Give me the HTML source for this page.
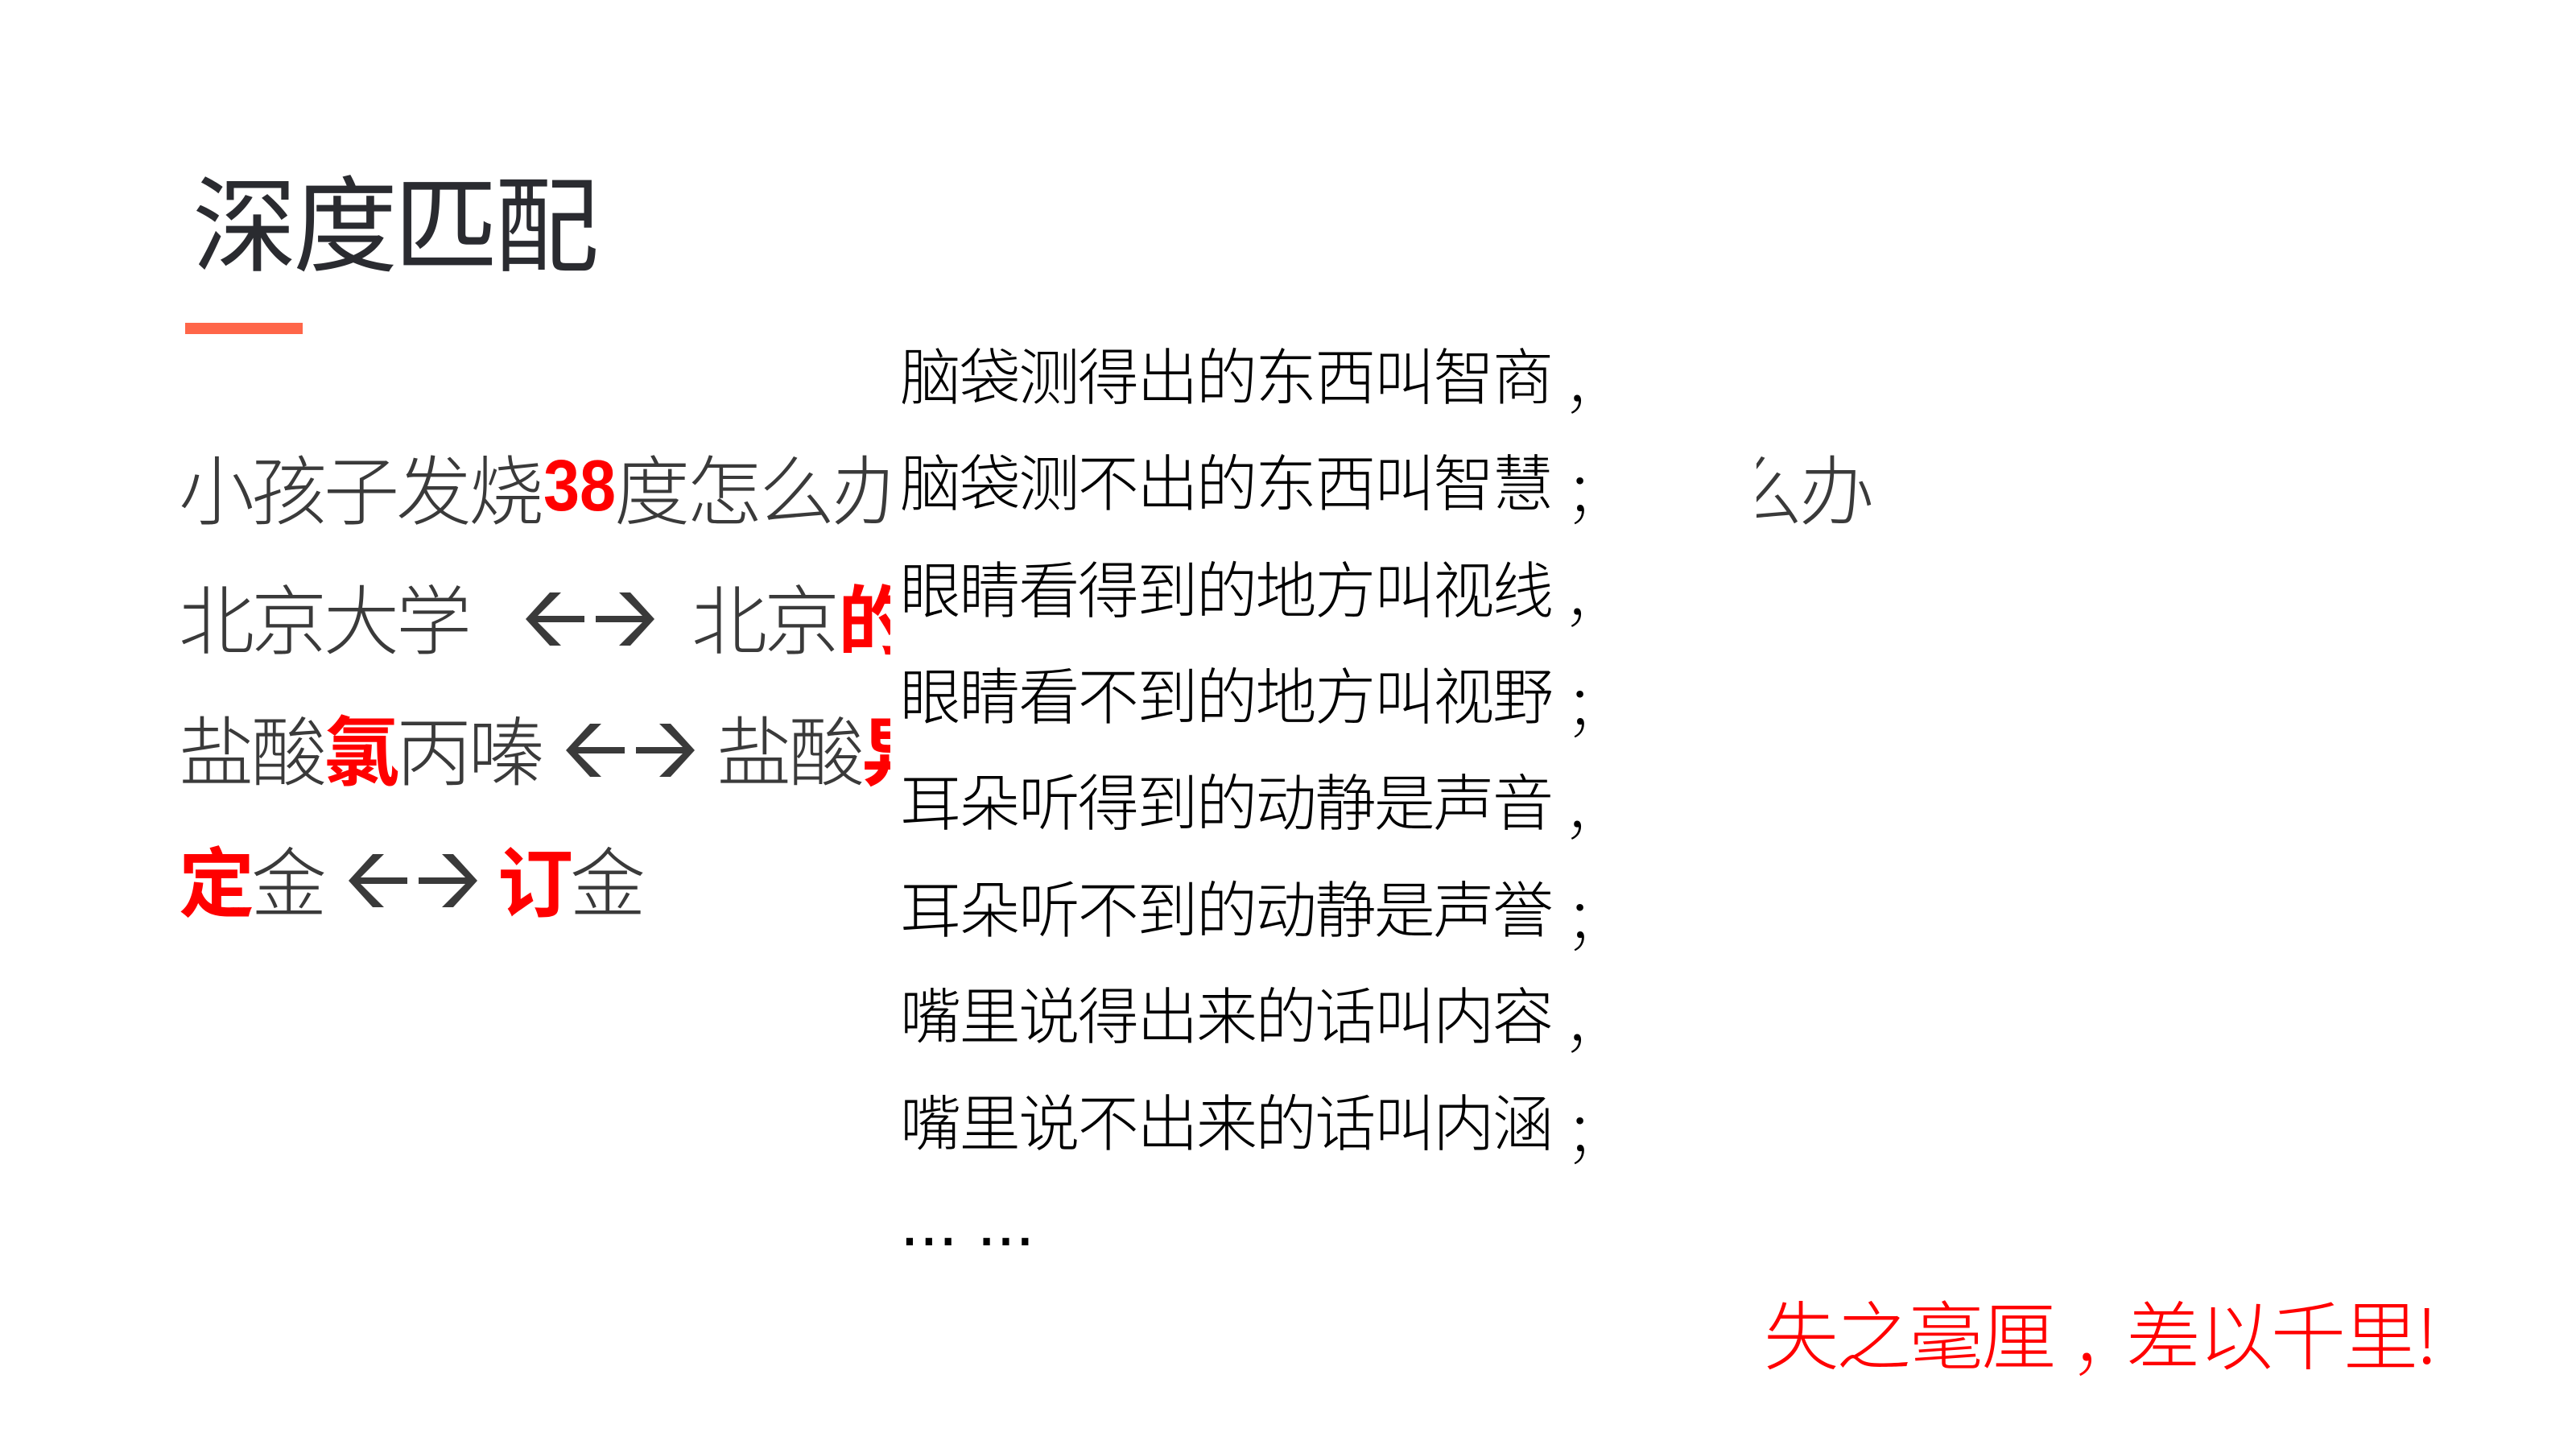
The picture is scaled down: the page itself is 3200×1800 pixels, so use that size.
<!DOCTYPE html>
<html lang="zh">
<head>
<meta charset="utf-8">
<title>深度匹配</title>
<style>
html,body{margin:0;padding:0;background:#fff}
body{position:relative;width:3200px;height:1800px;overflow:hidden;font-family:"Liberation Sans","Noto Sans CJK SC",sans-serif}
.t{position:absolute;white-space:pre;line-height:1;font-family:"Noto Sans CJK SC","Liberation Sans",sans-serif;font-weight:300}
.l{font-size:94px;color:#3a3a3a;letter-spacing:-4px}
.b{font-weight:700;color:#f00}
.r{font-size:76px;color:#000;left:1118px;letter-spacing:-2.4px}
.p{position:relative;left:16px;top:12px;font-weight:100}
svg{position:absolute}
</style>
</head>
<body>
<div class="t" style="left:239px;top:206px;font-size:130px;letter-spacing:-5px;color:#2a2b30;font-weight:400">深度匹配</div>
<div style="position:absolute;left:230px;top:401px;width:146px;height:14px;background:#ff6649"></div>

<div class="t l" style="left:222px;top:557px">小孩子发烧</div>
<div class="t l b" style="left:675px;top:559px;font-size:90px;letter-spacing:0;font-family:'Liberation Sans',sans-serif;transform-origin:0 0;transform:scaleX(.9)">38</div>
<div class="t l" style="left:763px;top:557px">度怎么办</div>
<div class="t l" style="left:2145px;top:557px">么办</div>

<div class="t l" style="left:222px;top:718px">北京大学</div>
<div class="t l" style="left:859px;top:718px">北京</div>
<div class="t l b" style="left:1041px;top:718px">的</div>

<div class="t l" style="left:222px;top:881px">盐酸</div>
<div class="t l b" style="left:402px;top:881px">氯</div>
<div class="t l" style="left:492px;top:881px">丙嗪</div>
<div class="t l" style="left:890px;top:881px">盐酸</div>
<div class="t l b" style="left:1070px;top:881px">异</div>

<div class="t l b" style="left:222px;top:1044px">定</div>
<div class="t l" style="left:312px;top:1044px">金</div>
<div class="t l b" style="left:618px;top:1044px">订</div>
<div class="t l" style="left:708px;top:1044px">金</div>

<svg width="3200" height="1800" viewBox="0 0 3200 1800" style="left:0;top:0">
<g fill="#3a3a3a">
<g transform="translate(653,769)"><path d="M0 0L30-33H44L15-4H73V4H15L44 33H30Z"/><path d="M160 0L130-33H116L145-4H87V4H145L116 33H130Z"/></g>
<g transform="translate(703,932)"><path d="M0 0L30-33H44L15-4H73V4H15L44 33H30Z"/><path d="M160 0L130-33H116L145-4H87V4H145L116 33H130Z"/></g>
<g transform="translate(433,1094)"><path d="M0 0L30-33H44L15-4H73V4H15L44 33H30Z"/><path d="M160 0L130-33H116L145-4H87V4H145L116 33H130Z"/></g>
</g>
</svg>

<div style="position:absolute;left:1106px;top:420px;width:1076px;height:1160px;background:#fff"></div>

<div class="t r" style="top:425px">脑袋测得出的东西叫智商<span class="p">，</span></div>
<div class="t r" style="top:557px">脑袋测不出的东西叫智慧<span class="p">；</span></div>
<div class="t r" style="top:690px">眼睛看得到的地方叫视线<span class="p">，</span></div>
<div class="t r" style="top:822px">眼睛看不到的地方叫视野<span class="p">；</span></div>
<div class="t r" style="top:954px">耳朵听得到的动静是声音<span class="p">，</span></div>
<div class="t r" style="top:1087px">耳朵听不到的动静是声誉<span class="p">；</span></div>
<div class="t r" style="top:1219px">嘴里说得出来的话叫内容<span class="p">，</span></div>
<div class="t r" style="top:1352px">嘴里说不出来的话叫内涵<span class="p">；</span></div>
<div style="position:absolute;left:1118px;top:1470px;font-size:86px;line-height:96px;color:#000;white-space:pre;font-family:'Liberation Sans',sans-serif">... ...</div>

<div class="t" style="left:2191px;top:1607px;font-size:93px;letter-spacing:-3px;color:#f00">失之毫厘<span class="p" style="left:22px;top:8px">，</span>差以千里!</div>
</body>
</html>
